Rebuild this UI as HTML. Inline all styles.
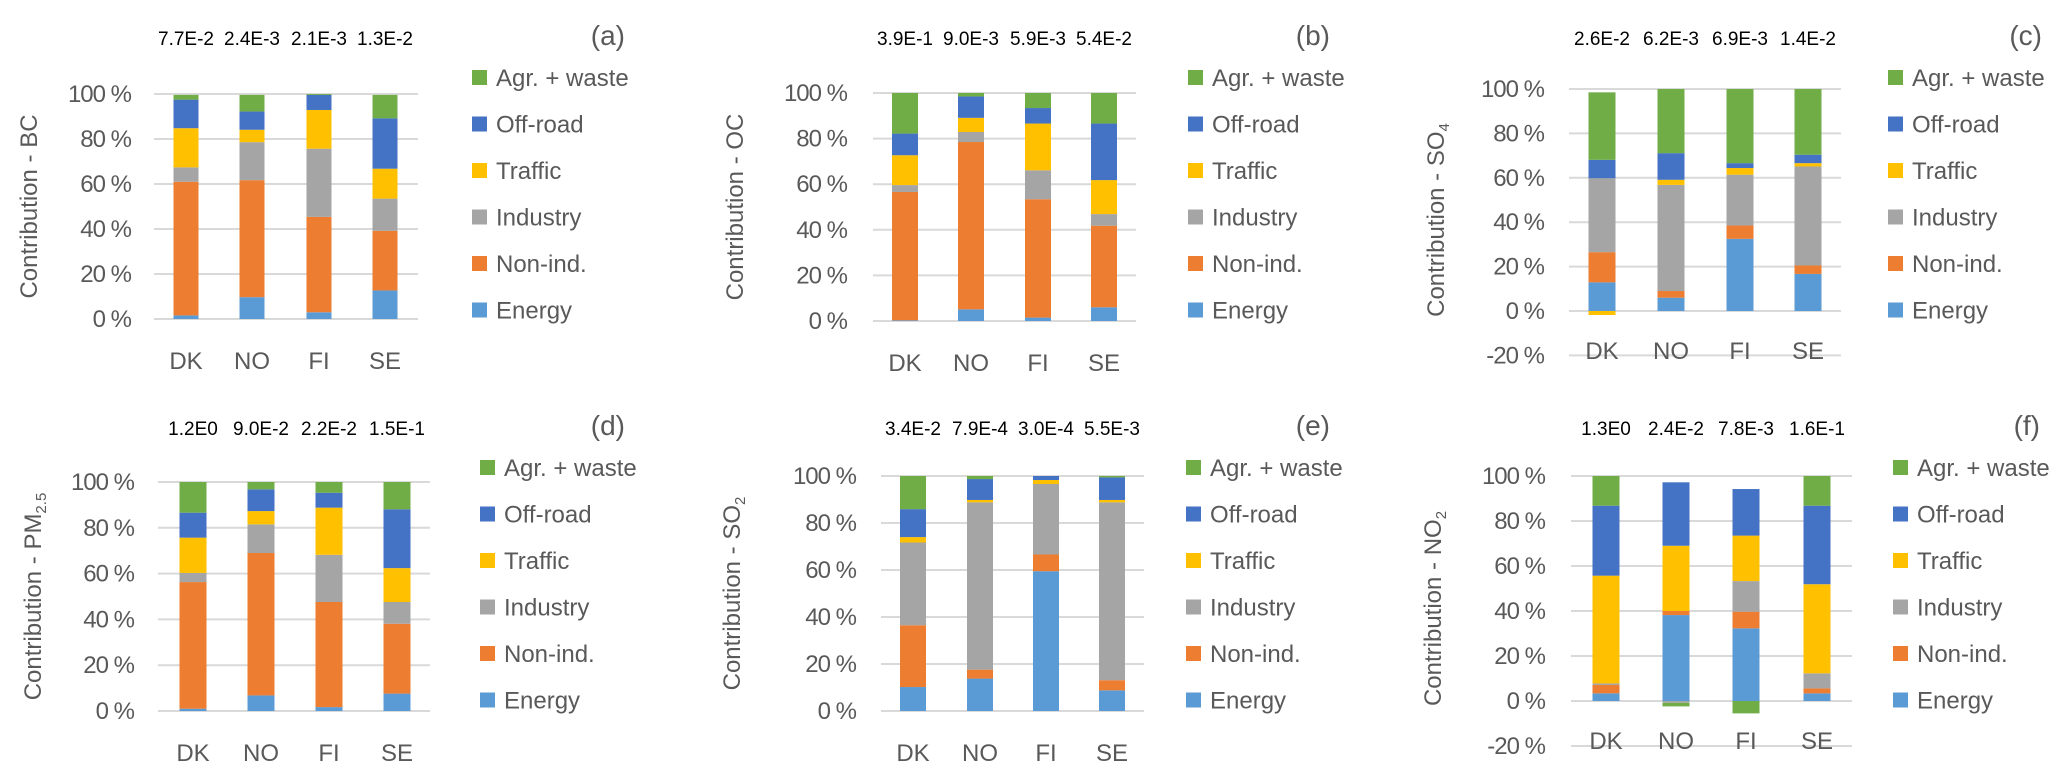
<!DOCTYPE html>
<html><head><meta charset="utf-8"><style>
html,body{margin:0;padding:0;background:#fff;}
svg{display:block;font-family:"Liberation Sans",sans-serif;}
</style></head><body>
<svg id="chart" width="2067" height="778" viewBox="0 0 2067 778" xmlns="http://www.w3.org/2000/svg"></svg>
<script>
const categories=['DK','NO','FI','SE'];
const seriesNames=['Energy','Non-ind.','Industry','Traffic','Off-road','Agr. + waste'];
const colors=['#5B9BD5','#ED7D31','#A5A5A5','#FFC000','#4472C4','#70AD47'];
// (a) BC
const bcTotals=['7.7E-2','2.4E-3','2.1E-3','1.3E-2'];
const bcEnergy=[1.6,9.7,3,12.7];
const bcNonInd=[59.4,52,42.4,26.5];
const bcIndustry=[6.4,16.9,30.3,14.3];
const bcTraffic=[17.4,5.5,17.2,13.3];
const bcOffroad=[12.7,8.1,6.7,22.4];
const bcAgr=[2.1,7.4,0.4,10.4];
// (b) OC
const ocTotals=['3.9E-1','9.0E-3','5.9E-3','5.4E-2'];
const ocEnergy=[0.3,5.1,1.5,6];
const ocNonInd=[56.3,73.4,51.9,35.8];
const ocIndustry=[3,4.4,12.7,5.1];
const ocTraffic=[13.1,6.2,20.5,14.9];
const ocOffroad=[9.5,9.4,6.8,24.8];
const ocAgr=[17.8,1.5,6.6,13.4];
// (c) SO4
const so4Totals=['2.6E-2','6.2E-3','6.9E-3','1.4E-2'];
const so4Energy=[12.9,6,32.5,16.7];
const so4NonInd=[13.6,3,6,3.8];
const so4Industry=[33.3,47.8,22.9,44.6];
const so4Traffic=[-1.8,2.3,3,1.5];
const so4Offroad=[8.3,12,2.2,3.8];
const so4Agr=[30.4,28.9,33.4,29.6];
// (d) PM2.5
const pmTotals=['1.2E0','9.0E-2','2.2E-2','1.5E-1'];
const pmEnergy=[1,6.8,1.7,7.6];
const pmNonInd=[55.3,62.2,45.9,30.5];
const pmIndustry=[4,12.5,20.6,9.5];
const pmTraffic=[15.4,5.8,20.6,14.8];
const pmOffroad=[10.9,9.5,6.5,25.7];
const pmAgr=[13.4,3.2,4.7,11.9];
// (e) SO2
const so2Totals=['3.4E-2','7.9E-4','3.0E-4','5.5E-3'];
const so2Energy=[10.2,13.8,59.5,8.8];
const so2NonInd=[26.3,3.8,7.1,4.3];
const so2Industry=[35.2,71.2,30,75.7];
const so2Traffic=[2.3,1,1.7,1];
const so2Offroad=[11.9,8.9,1.7,9.6];
const so2Agr=[14.1,1.3,0,0.6];
// (f) NO2
const no2Totals=['1.3E0','2.4E-2','7.8E-3','1.6E-1'];
const no2Energy=[3.4,38.2,32.3,3.4];
const no2NonInd=[3.7,1.8,7.4,2.2];
const no2Industry=[0.7,-0.8,13.6,6.7];
const no2Traffic=[47.9,29,20.2,39.6];
const no2Offroad=[31.1,28.2,20.7,34.9];
const no2Agr=[13.2,-1.6,-5.5,13.2];
const yTicksPos=[0,20,40,60,80,100];
const yTicksNeg=[-20,0,20,40,60,80,100];

const NS='http://www.w3.org/2000/svg';
const svg=document.getElementById('chart');
function mk(tag,attrs,parent){const e=document.createElementNS(NS,tag);for(const k in attrs)e.setAttribute(k,attrs[k]);(parent||svg).appendChild(e);return e;}

const panels=[
 {id:'a',sub:'BC',subScript:'',totals:bcTotals,data:[bcEnergy,bcNonInd,bcIndustry,bcTraffic,bcOffroad,bcAgr],ticks:yTicksPos,
  left:154,right:418,y100:94,y0:319,bars:[186,252,319,385],bw:25,tickX:131,titleX:29,legX:472,labelX:625,offY:0},
 {id:'b',sub:'OC',subScript:'',totals:ocTotals,data:[ocEnergy,ocNonInd,ocIndustry,ocTraffic,ocOffroad,ocAgr],ticks:yTicksPos,
  left:873,right:1136,y100:93,y0:321,bars:[905,971,1038,1104],bw:26,tickX:847,titleX:735,legX:1188,labelX:1330,offY:0},
 {id:'c',sub:'SO',subScript:'4',totals:so4Totals,data:[so4Energy,so4NonInd,so4Industry,so4Traffic,so4Offroad,so4Agr],ticks:yTicksNeg,
  left:1569,right:1841,y100:89,y0:311,bars:[1602,1671,1740,1808],bw:27,tickX:1544,titleX:1436,legX:1888,labelX:2042,offY:0},
 {id:'d',sub:'PM',subScript:'2.5',totals:pmTotals,data:[pmEnergy,pmNonInd,pmIndustry,pmTraffic,pmOffroad,pmAgr],ticks:yTicksPos,
  left:158,right:430,y100:482,y0:711,bars:[193,261,329,397],bw:27,tickX:134,titleX:33,legX:480,labelX:625,offY:390},
 {id:'e',sub:'SO',subScript:'2',totals:so2Totals,data:[so2Energy,so2NonInd,so2Industry,so2Traffic,so2Offroad,so2Agr],ticks:yTicksPos,
  left:881,right:1144,y100:476,y0:711,bars:[913,980,1046,1112],bw:26,tickX:856,titleX:732,legX:1186,labelX:1330,offY:390},
 {id:'f',sub:'NO',subScript:'2',totals:no2Totals,data:[no2Energy,no2NonInd,no2Industry,no2Traffic,no2Offroad,no2Agr],ticks:yTicksNeg,
  left:1571,right:1852,y100:476,y0:701,bars:[1606,1676,1746,1817],bw:27,tickX:1545,titleX:1433,legX:1893,labelX:2040,offY:390}
];

panels.forEach(p=>{
  const g=mk('g',{});
  
  
  const y=v=>p.y0-(v/100)*(p.y0-p.y100);
  p.ticks.forEach(t=>{
    const gl=mk('line',{x1:p.left,x2:p.right,y1:y(t),y2:y(t),stroke:'#D9D9D9','stroke-width':2},g);
    
    
    const tl=mk('text',{x:p.tickX,y:y(t)+8,'text-anchor':'end','font-size':24,fill:'#595959','letter-spacing':'-1'},g);
    tl.textContent=t+' %';
    
    
  });
  categories.forEach((c,i)=>{
    let pos=0,neg=0;
    p.data.forEach((arr,s)=>{
      const v=arr[i];if(!v)return;
      let a,b;
      if(v>0){a=pos;b=pos+v;pos=b;}else{a=neg;b=neg+v;neg=b;}
      const r=mk('rect',{x:p.bars[i]-p.bw/2,y:Math.min(y(a),y(b)),width:p.bw,height:Math.abs(y(a)-y(b)),fill:colors[s]},g);
      
      
    });
    const xl=mk('text',{x:p.bars[i],y:p.y0+(p.ticks[0]<0?48:50),'text-anchor':'middle','font-size':24,fill:'#595959'},g);
    xl.textContent=c;
    
    
    const tv=mk('text',{x:p.bars[i],y:p.offY+45,'text-anchor':'middle','font-size':19,fill:'#000'},g);
    tv.textContent=p.totals[i];
    
    
  });
  const pl=mk('text',{x:p.labelX,y:p.offY+45,'text-anchor':'end','font-size':28,fill:'#595959'},g);
  pl.textContent='('+p.id+')';
  
  
  const cy=(p.y0+p.y100)/2+ (p.ticks[0]<0?20:0);
  const yt=mk('text',{x:p.titleX,y:cy,'text-anchor':'middle','font-size':24,fill:'#595959',transform:'rotate(-90 '+p.titleX+' '+cy+')',dy:8},g);
  yt.textContent='Contribution - '+p.sub;
  if(p.subScript){const ts=mk('tspan',{'font-size':15,dy:5},yt);ts.textContent=p.subScript;}
  
  
  for(let s=5;s>=0;s--){
    const row=5-s;
    const ly=p.offY+78+row*46.5;
    const lg=mk('g',{},g);
    
    
    mk('rect',{x:p.legX,y:ly-8,width:15,height:15,fill:colors[s]},lg);
    const lt=mk('text',{x:p.legX+24,y:ly+8,'font-size':24,fill:'#595959'},lg);
    lt.textContent=seriesNames[s];
  }
});
</script>
</body></html>
